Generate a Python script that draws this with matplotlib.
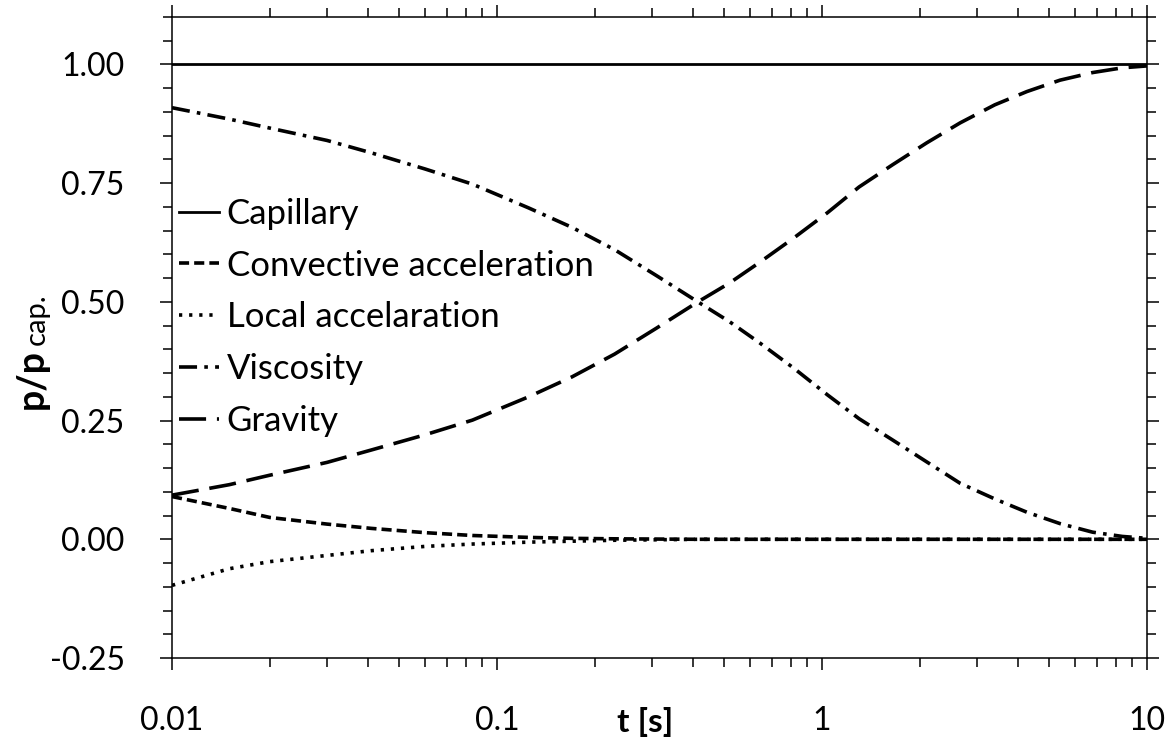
import numpy as np
import matplotlib
matplotlib.use("Agg")
import matplotlib.pyplot as plt
from matplotlib.ticker import FixedLocator, FixedFormatter, LogLocator, NullFormatter

plt.rcParams["font.family"] = ["Lato", "DejaVu Sans"]
plt.rcParams["axes.unicode_minus"] = False

# ---- data ----
t = [0.01, 0.015, 0.02, 0.03, 0.041, 0.06, 0.084, 0.125, 0.17, 0.23,
     0.31, 0.415, 0.52, 0.645, 0.82, 1.04, 1.3, 1.65, 2.1, 2.66,
     3.4, 4.27, 5.4, 6.8, 8.4, 10.0]
capillary = [1.0] * len(t)
convective = [0.090, 0.065, 0.046, 0.032, 0.023, 0.014, 0.008, 0.004, 0.002, 0.001,
              0.0005, 0.0, 0.0, 0.0, 0.0, 0.0, 0.0, 0.0, 0.0, 0.0,
              0.0, 0.0, 0.0, 0.0, 0.0, 0.0]
local = [-0.097, -0.062, -0.047, -0.034, -0.024, -0.015, -0.010, -0.006, -0.004, -0.002,
         -0.001, 0.0, 0.0, 0.0, 0.0, 0.0, 0.0, 0.0, 0.0, 0.0,
         0.0, 0.0, 0.0, 0.0, 0.0, 0.0]
viscosity = [0.909, 0.885, 0.866, 0.840, 0.814, 0.780, 0.748, 0.698, 0.657, 0.610,
             0.555, 0.500, 0.458, 0.413, 0.360, 0.304, 0.254, 0.209, 0.163, 0.118,
             0.085, 0.057, 0.033, 0.015, 0.006, 0.002]
gravity = [0.093, 0.115, 0.135, 0.162, 0.188, 0.220, 0.251, 0.300, 0.342, 0.390,
           0.445, 0.500, 0.540, 0.584, 0.635, 0.688, 0.742, 0.789, 0.835, 0.877,
           0.915, 0.943, 0.967, 0.983, 0.993, 0.997]

labels = ["Capillary", "Convective acceleration", "Local accelaration",
          "Viscosity", "Gravity"]
yticks = [-0.25, 0.0, 0.25, 0.5, 0.75, 1.0]
xticks = [0.01, 0.1, 1, 10]
xticklabels = ["0.01", "0.1", "1", "10"]

FS_TICK = 23
FS_LEG = 25

fig = plt.figure(figsize=(11.75, 7.49), dpi=100)
ax = fig.add_axes([0.1464, 0.1215, 0.9762 - 0.1464, 0.9773 - 0.1215])

lw = 2.6
ax.plot(t, capillary, color="black", lw=2.0, label=labels[0])
ax.plot(t, convective, color="black", lw=lw, dashes=(2.8, 1.4), label=labels[1])
ax.plot(t, local, color="black", lw=lw, dashes=(0.9, 1.9), label=labels[2])
ax.plot(t, viscosity, color="black", lw=lw, dashes=(5.0, 2.0, 1.0, 2.0), label=labels[3])
ax.plot(t, gravity, color="black", lw=lw, dashes=(7.5, 3.0), label=labels[4])

ax.set_xscale("log")
ax.set_xlim(0.01, 10)
ax.set_ylim(-0.25, 1.10)

ax.xaxis.set_major_locator(FixedLocator(xticks))
ax.xaxis.set_major_formatter(FixedFormatter(xticklabels))
ax.xaxis.set_minor_locator(LogLocator(base=10, subs=np.arange(2, 10)))
ax.xaxis.set_minor_formatter(NullFormatter())
ax.yaxis.set_major_locator(FixedLocator(yticks))
ax.yaxis.set_major_formatter(FixedFormatter([f"{v:.2f}" for v in yticks]))
ax.yaxis.set_minor_locator(FixedLocator(np.arange(-0.25, 1.101, 0.05)))

for s in ax.spines.values():
    s.set_linewidth(1.1)
ax.tick_params(which="both", direction="out", top=True, right=True, width=1.1)
ax.tick_params(which="major", length=8.6)
ax.tick_params(which="minor", length=6.5)
ax.tick_params(axis="x", which="major", pad=26, labelsize=FS_TICK)
ax.tick_params(axis="y", which="major", pad=25.5, labelsize=FS_TICK)

ax.set_xlabel("t [s]", fontsize=FS_TICK + 1, fontweight="bold", va="center")
ax.xaxis.set_label_coords(0.485, -0.10)

# y label: bold "p/p" with a larger-than-mathtext subscript "cap."
ax.set_ylabel("p/p", fontsize=27, fontweight="bold", va="center")
ax.yaxis.set_label_coords(-0.1436, 0.436)
fig.text(37 / 1175, 1 - 345 / 749, "cap.", rotation=90, ha="center", va="bottom",
         fontsize=21)

ax.legend(loc="upper left", bbox_to_anchor=(0.007, 0.718), frameon=False,
          fontsize=FS_LEG, handlelength=1.15, handletextpad=0.23,
          labelspacing=0.57, borderaxespad=0.0, borderpad=0.0)

fig.savefig("out.png", dpi=100)
